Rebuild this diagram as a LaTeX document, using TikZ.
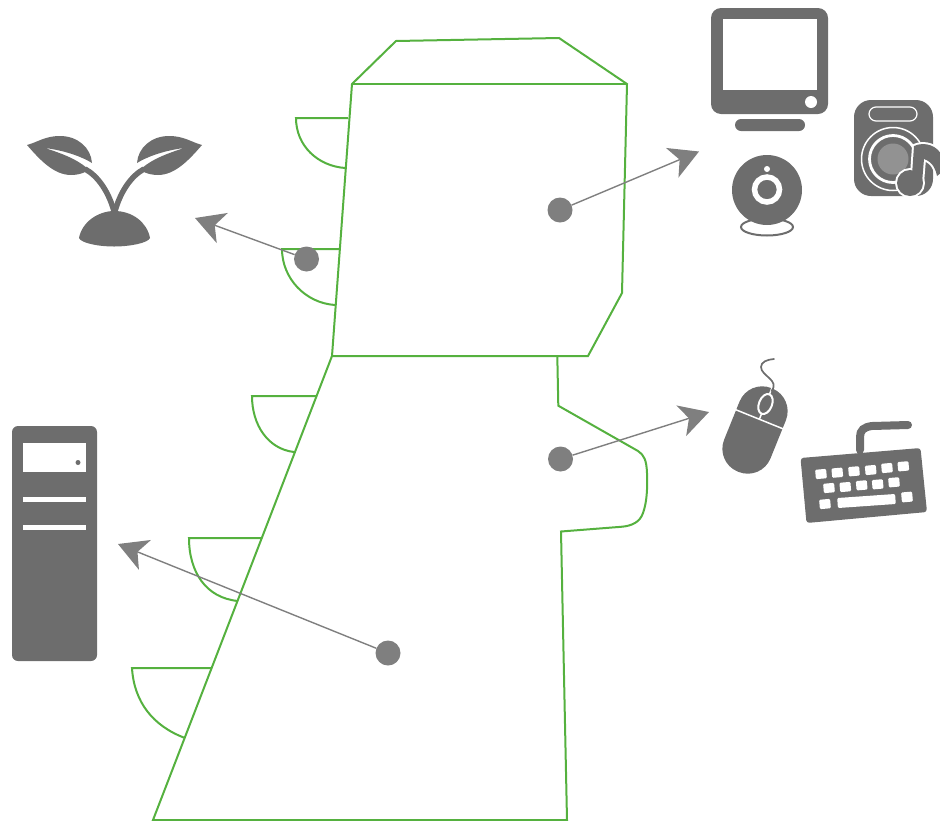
\documentclass[tikz,border=0pt]{standalone}
\usetikzlibrary{arrows.meta}
\definecolor{leafgreen}{HTML}{55B13F}
\definecolor{icongray}{HTML}{6D6D6D}
\definecolor{linkgray}{HTML}{7F7F7F}
\tikzset{
  outline/.style={draw=leafgreen,line width=2pt,line join=miter,fill=none},
  icon/.style={fill=icongray,draw=none},
  hole/.style={fill=white,draw=none},
  spot/.style={circle,fill=linkgray,draw=none,minimum size=25pt,inner sep=0pt},
  link/.style={draw=linkgray,line width=1.4pt,-{Stealth[length=29pt,width=32pt,inset=8pt,fill=linkgray]}}
}
\begin{document}
\begin{tikzpicture}[x=1pt,y=-1pt]
\useasboundingbox (0,0) rectangle (940,820);
% green outlines
\draw[outline] (352,84) -- (396,41) -- (559,38) -- (627,84) -- (622,293) -- (588,356) -- (332,356) -- cycle;
\draw[outline] (352,84) -- (627,84);
\draw[outline] (332,356) -- (153,820) -- (567,820) -- (561,531.5) -- (621,526.8)
  .. controls (632,526) and (640,522) .. (643,513)
  .. controls (647,502) and (647.5,488) .. (647,473)
  .. controls (646.5,460) and (644,455) .. (638,451)
  -- (558.3,405.7) -- (557.3,356);
\draw[outline] (348,118) -- (296,118) .. controls (296,146) and (318,166) .. (345,168);
\draw[outline] (339,249) -- (282,249) .. controls (282,278) and (305,303) .. (335,305);
\draw[outline] (317,396) -- (252,396) .. controls (252,425) and (268,449) .. (294,452);
\draw[outline] (262,538) -- (189,538) .. controls (189,572) and (206,598) .. (238,601);
\draw[outline] (212,668) -- (132,668) .. controls (134,702) and (153,726) .. (185,738);
% spots and links
\node[spot] (s1) at (560,210) {};
\node[spot] (s2) at (306.5,259) {};
\node[spot] (s3) at (560.5,459) {};
\node[spot] (s4) at (388,653) {};
\coordinate (e1) at (699,151.5);
\coordinate (e2) at (195,218);
\coordinate (e3) at (709,412);
\coordinate (e4) at (118,544);
\draw[link] (s1) -- (e1);
\draw[link] (s2) -- (e2);
\draw[link] (s3) -- (e3);
\draw[link] (s4) -- (e4);
% monitor
\fill[icon,rounded corners=10pt] (711,8) rectangle (828,114);
\fill[hole] (723,19) rectangle (817,90);
\fill[hole] (811,102) circle (6);
\fill[icon,rounded corners=6pt] (735,119) rectangle (805,131);
% webcam
\draw[icongray,line width=2pt] (767,227) ellipse [x radius=26,y radius=8.5];
\fill[icon] (767,190) circle (35);
\draw[white,line width=5.5pt] (767,189.5) circle (12.5);
\fill[hole] (767,169) circle (3);
% speaker
\fill[icon,rounded corners=17pt] (854,100) rectangle (933,196);
\draw[white,line width=1.2pt,rounded corners=7pt] (869,107) rectangle (917,121);
\draw[white,line width=1.5pt] (893,159) circle (31.5);
\draw[white,line width=2.8pt] (893,159) circle (23.5);
\fill[icongray!75!white] (893,159) circle (15.5);
\draw[white,line width=4pt,line join=round] (910,183) circle (13);
\draw[white,line width=4pt,line join=round] (912,175) -- (914,146) .. controls (925,141) and (938,146) .. (942,156) -- (942,172) -- (937,176) .. controls (936,170) and (933,162) .. (924,159) -- (922,183) -- cycle;
\fill[icon] (910,183) circle (13);
\fill[icon] (912,175) -- (914,146) .. controls (925,141) and (938,146) .. (942,156) -- (942,172) -- (937,176) .. controls (936,170) and (933,162) .. (924,159) -- (922,183) -- cycle;
% mouse
\begin{scope}[shift={(755,430)},rotate=-22]
  \fill[icon,rounded corners=24.5pt] (-25,-45) rectangle (25,45);
  \draw[white,line width=1.5pt] (-25.5,-11.6) -- (25.5,-11.6);
  \draw[white,line width=1.5pt] (0,-11.6) -- (0,-18);
  \draw[white,line width=2pt,fill=icongray] (0,-28) ellipse [x radius=6.5,y radius=10.5];
  \draw[white,line width=1.5pt] (0,-38.5) -- (0,-46);
\end{scope}
\draw[icongray,line width=1.7pt,line cap=round] (771.5,391) .. controls (780,380) and (761,376) .. (761,367) .. controls (761,362) and (767,359.5) .. (774,359);
% keyboard
\draw[icongray,line width=8pt,line cap=round] (860,450) -- (860,437) .. controls (860,430) and (864,427) .. (872,426) -- (908,425);
\fill[icon,rounded corners=3pt] (800.5,458) -- (920.5,448) -- (927,512) -- (806.5,523) -- cycle;
\foreach \x/\y in {821/474,837.3/472.7,854/471.3,870.7/470,887/468,903.3/466.3,829/488,845.3/487,861.7/485.3,877.7/484.3,894/482.3,825/504}
  \fill[hole,rounded corners=1.2pt,rotate around={5:(\x,\y)}] (\x-5.5,\y-4.7) rectangle (\x+5.5,\y+4.7);
\fill[hole,rounded corners=1.2pt,rotate around={4:(866.5,501)}] (837.5,496) rectangle (895.5,506);
\fill[hole,rounded corners=1.2pt,rotate around={5:(907,497)}] (901.5,492) rectangle (912.5,502);
% sprout
\fill[icon] (79,238) .. controls (82,222) and (98,211) .. (114.5,211) .. controls (132,211) and (147,222) .. (150,238)
  .. controls (148,243) and (130,246.5) .. (114,246.5) .. controls (98,246.5) and (81,243) .. (79,238) -- cycle;
\foreach \m/\c in {1/0,-1/229}{
  \begin{scope}[xshift=\c pt,xscale=\m]
    \fill[icon] (27,145) .. controls (38,142) and (45,136) .. (60,136) .. controls (78,136) and (91,148) .. (92,163)
      .. controls (84,158) and (68,151) .. (45,148) .. controls (60,153) and (75,158) .. (87,168)
      -- (87,171) .. controls (82,174) and (76,175) .. (71,175) .. controls (54,175) and (40,160) .. (27,145) -- cycle;
    \draw[icongray,line width=5.5pt] (85,169) .. controls (98,176) and (109,192) .. (114.5,213);
  \end{scope}
}
% tower
\fill[icon,rounded corners=6pt] (12,426) rectangle (97,661);
\fill[hole] (23,443) rectangle (86,472);
\fill[icon] (78,462.5) circle (2.5);
\fill[hole] (23,497) rectangle (86,502);
\fill[hole] (23,525) rectangle (86,530);
\end{tikzpicture}
\end{document}
